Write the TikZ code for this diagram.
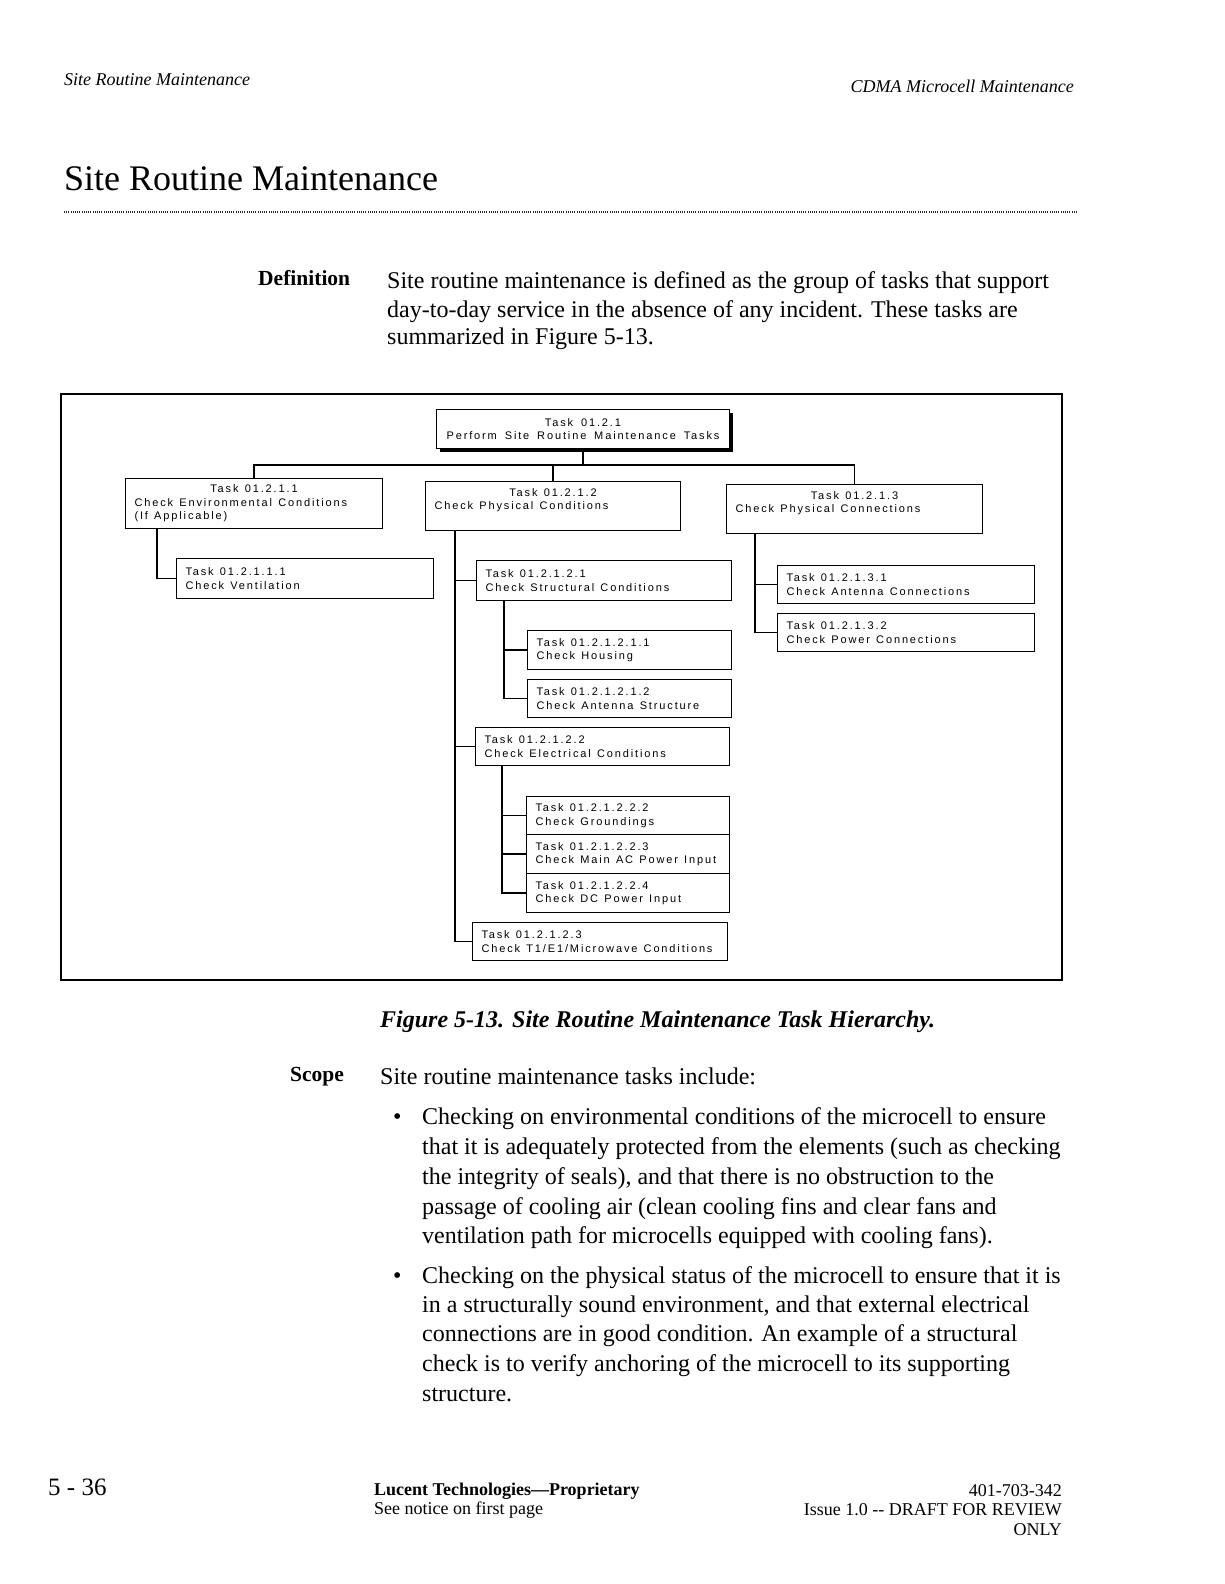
\documentclass[tikz,border=0pt]{standalone}
\usepackage{fontspec}
\setmainfont{Liberation Serif}
\newfontfamily\dfont[LetterSpace=17, WordSpace=1.6]{Liberation Sans}
\usetikzlibrary{shadows}
\begin{document}
\begin{tikzpicture}[x=1pt,y=-1pt,
  txt/.style={inner sep=0pt, anchor=base west},
  body/.style={txt, font=\fontsize{24}{29}\selectfont},
  lab/.style={txt, font=\bfseries\fontsize{21.5}{26}\selectfont},
  foot/.style={txt, font=\fontsize{18}{20}\selectfont},
  head/.style={txt, font=\itshape\fontsize{18}{20}\selectfont},
  tbox/.style 2 args={draw, line width=1pt, fill=white, anchor=north west,
    minimum width=#1pt, minimum height=#2pt, text width=#1pt-18pt,
    inner xsep=9pt, inner ysep=0pt, align=left,
    font=\dfont\fontsize{11}{13.5}\selectfont,
    execute at begin node={\spaceskip=6.2pt\relax}},
  topbox/.style 2 args={draw, line width=1pt, fill=white, anchor=north west,
    minimum width=#1pt, minimum height=#2pt, inner sep=0pt, align=center,
    font=\dfont\fontsize{11}{13.5}\selectfont,
    drop shadow={fill=black, opacity=1, shadow xshift=3pt, shadow yshift=-3pt}},
  conn/.style={line width=1.8pt}
]
\useasboundingbox (0,0) rectangle (1224,1584);
\fill[white] (0,0) rectangle (1224,1584);

% header
\node[head] (h1) at (64,86) {Site Routine Maintenance};
\node[head, anchor=base east] (h2) at (1074,93) {CDMA Microcell Maintenance};
\node[txt, font=\fontsize{36}{40}\selectfont] (title) at (64,190) {Site Routine Maintenance};
\draw[line width=1.4pt, black!85, dash pattern=on 1pt off 1.2pt] (64,212) -- (1078,212);

% definition
\node[lab] (deflab) at (258,285) {Definition};
\node[body] (d1) at (387,288) {Site routine maintenance is defined as the group of tasks that support};
\node[body] (d2) at (387,317) {day-to-day service in the absence of any incident. These tasks are};
\node[body] (d3) at (387,344) {summarized in Figure 5-13.};

% frame
\draw[line width=1.3pt] (61,394) rectangle (1062,980);

% boxes
\node[topbox={293}{39}] (b0) at (436,409) {Task 01.2.1\\Perform Site Routine Maintenance Tasks};
\node[tbox={257}{50}] (b1) at (125,478) {\makebox[\linewidth]{Task 01.2.1.1}\\\mbox{Check Environmental Conditions}\\(If Applicable)};
\node[tbox={255}{49}] (b2) at (425,481) {\makebox[\linewidth]{Task 01.2.1.2}\\\mbox{Check Physical Conditions}\\\mbox{}};
\node[tbox={256}{49}] (b3) at (726,484) {\makebox[\linewidth]{Task 01.2.1.3}\\\mbox{Check Physical Connections}\\\mbox{}};
\node[tbox={257}{40}] (b11) at (176,558) {Task 01.2.1.1.1\\\mbox{Check Ventilation}};
\node[tbox={255}{40}] (b21) at (476,560) {Task 01.2.1.2.1\\\mbox{Check Structural Conditions}};
\node[tbox={204}{39}] (b211) at (527,630) {Task 01.2.1.2.1.1\\\mbox{Check Housing}};
\node[tbox={204}{38}] (b212) at (527,679) {Task 01.2.1.2.1.2\\\mbox{Check Antenna Structure}};
\node[tbox={254}{38}] (b22) at (475,727) {Task 01.2.1.2.2\\\mbox{Check Electrical Conditions}};
\node[tbox={203}{38}] (b222) at (526,796) {Task 01.2.1.2.2.2\\\mbox{Check Groundings}};
\node[tbox={203}{39}] (b223) at (526,834) {Task 01.2.1.2.2.3\\\mbox{Check Main AC Power Input}};
\node[tbox={203}{39}] (b224) at (526,873) {Task 01.2.1.2.2.4\\\mbox{Check DC Power Input}};
\node[tbox={255}{38}] (b23) at (472,922) {Task 01.2.1.2.3\\\mbox{Check T1/E1/Microwave Conditions}};
\node[tbox={257}{38}] (b31) at (777,565) {Task 01.2.1.3.1\\\mbox{Check Antenna Connections}};
\node[tbox={257}{38}] (b32) at (777,613) {Task 01.2.1.3.2\\\mbox{Check Power Connections}};

% connectors
\coordinate (bus) at (581,465);
\coordinate (v1) at (157,0);
\coordinate (v2) at (455,0);
\coordinate (v21) at (504,0);
\coordinate (v22) at (502,0);
\coordinate (v3) at (755,0);
\draw[conn] (b0.south) -- (b0.south |- bus);
\draw[conn] (b1.north) -- (b1.north |- bus) -- (b3.north |- bus) -- (b3.north);
\draw[conn] (b2.north) -- (b2.north |- bus);
\draw[conn] (b1.south -| v1) |- (b11.west);
\draw[conn] (b2.south -| v2) |- (b23.west);
\draw[conn] (b21.west) -- (b21.west -| v2);
\draw[conn] (b22.west) -- (b22.west -| v2);
\draw[conn] (b21.south -| v21) |- (b212.west);
\draw[conn] (b211.west) -- (b211.west -| v21);
\draw[conn] (b22.south -| v22) |- (b224.west);
\draw[conn] (b222.west) -- (b222.west -| v22);
\draw[conn] (b223.west) -- (b223.west -| v22);
\draw[conn] (b3.south -| v3) |- (b32.west);
\draw[conn] (b31.west) -- (b31.west -| v3);

% caption
\node[txt, font=\bfseries\itshape\fontsize{24}{28}\selectfont] (cap) at (380,1027) {Figure 5-13. Site Routine Maintenance Task Hierarchy.};

% scope
\node[lab] (scopelab) at (290,1081) {Scope};
\node[body] (s0) at (380,1084) {Site routine maintenance tasks include:};
\node[body] (bu1) at (393,1124) {\textbullet};
\node[body] (s1) at (422,1124) {Checking on environmental conditions of the microcell to ensure};
\node[body] (s2) at (422,1154) {that it is adequately protected from the elements (such as checking};
\node[body] (s3) at (422,1184) {the integrity of seals), and that there is no obstruction to the};
\node[body] (s4) at (422,1214) {passage of cooling air (clean cooling fins and clear fans and};
\node[body] (s5) at (422,1243) {ventilation path for microcells equipped with cooling fans).};
\node[body] (bu2) at (393,1283) {\textbullet};
\node[body] (t1) at (422,1283) {Checking on the physical status of the microcell to ensure that it is};
\node[body] (t2) at (422,1312) {in a structurally sound environment, and that external electrical};
\node[body] (t3) at (422,1341) {connections are in good condition. An example of a structural};
\node[body] (t4) at (422,1371) {check is to verify anchoring of the microcell to its supporting};
\node[body] (t5) at (422,1401) {structure.};

% footer
\node[txt, font=\fontsize{25}{28}\selectfont] (pg) at (48,1495) {5 - 36};
\node[foot, font=\bfseries\fontsize{18}{20}\selectfont] (f1) at (374,1495) {Lucent Technologies---Proprietary};
\node[foot] (f2) at (374,1514) {See notice on first page};
\node[foot, anchor=base east] (f3) at (1062,1496) {401-703-342};
\node[foot, anchor=base east] (f4) at (1062,1515) {Issue 1.0 -{}- DRAFT FOR REVIEW};
\node[foot, anchor=base east] (f5) at (1062,1535) {ONLY};
\end{tikzpicture}
\end{document}
